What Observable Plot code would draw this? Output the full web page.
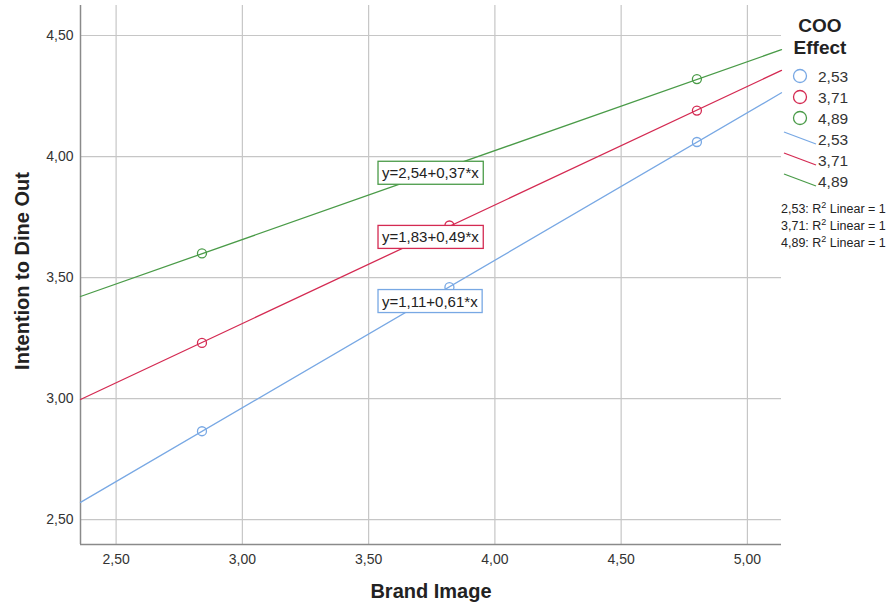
<!DOCTYPE html>
<html>
<head>
<meta charset="utf-8">
<script src="https://cdn.jsdelivr.net/npm/d3@7"></script>
<script src="https://cdn.jsdelivr.net/npm/@observablehq/plot@0.6"></script>
<style>
  html, body { margin: 0; padding: 0; background: #fff; }
  #chart { position: relative; width: 896px; height: 610px; }
  svg { font-family: "Liberation Sans", Arial, sans-serif; }
</style>
</head>
<body>
<div id="chart"></div>
<script>
// ---- data ----
const cooLevels = ["2,53", "3,71", "4,89"];
const cooColors = ["#78a8e4", "#d42a52", "#4a9b48"];
const brandImage = [2.84, 3.82, 4.80];
const intentionLow = [2.865, 3.46, 4.06];
const intentionMid = [3.23, 3.715, 4.19];
const intentionHigh = [3.60, 3.955, 4.32];
const equations = ["y=1,11+0,61*x", "y=1,83+0,49*x", "y=2,54+0,37*x"];
const equationX = [3.553, 3.553, 3.553];
const equationY = [3.40, 3.665, 3.93];
const xTicks = [2.5, 3.0, 3.5, 4.0, 4.5, 5.0];
const yTicks = [2.5, 3.0, 3.5, 4.0, 4.5];
const xDomain = [2.359, 5.135];
const yDomain = [2.397, 4.624];

const seriesValues = [intentionLow, intentionMid, intentionHigh];
const fmt = d => d.toFixed(2).replace(".", ",");

const points = [];
cooLevels.forEach((c, i) => brandImage.forEach((x, j) => points.push({coo: c, x, y: seriesValues[i][j]})));

// least-squares fit lines across the x domain
const fitLines = [];
cooLevels.forEach((c, i) => {
  const ys = seriesValues[i];
  const mx = d3.mean(brandImage), my = d3.mean(ys);
  const b = d3.sum(brandImage, (x, j) => (x - mx) * (ys[j] - my)) / d3.sum(brandImage, x => (x - mx) ** 2);
  const a = my - b * mx;
  xDomain.forEach(x => fitLines.push({coo: c, x, y: a + b * x}));
});

const eqData = cooLevels.map((c, i) => ({coo: c, label: equations[i], x: equationX[i], y: equationY[i]}));

const color = {domain: cooLevels, range: cooColors};

const plot = Plot.plot({
  width: 896,
  height: 610,
  marginLeft: 80,
  marginRight: 115,
  marginTop: 5,
  marginBottom: 66,
  style: {fontFamily: "Liberation Sans, Arial, sans-serif", background: "#fff"},
  x: {domain: xDomain},
  y: {domain: yDomain},
  color,
  marks: [
    Plot.gridX(xTicks, {stroke: "#c6c6c6", strokeOpacity: 1, strokeWidth: 1.2}),
    Plot.gridY(yTicks, {stroke: "#c6c6c6", strokeOpacity: 1, strokeWidth: 1.2}),
    Plot.ruleX([xDomain[0]], {stroke: "#8a8a8a", strokeWidth: 1.5}),
    Plot.ruleY([yDomain[0]], {stroke: "#8a8a8a", strokeWidth: 1.5}),
    Plot.axisX(xTicks, {tickSize: 0, tickPadding: 10, tickFormat: fmt, fontSize: 14, fill: "#333", label: null}),
    Plot.axisY(yTicks, {tickSize: 0, tickPadding: 7, tickFormat: fmt, fontSize: 14, fill: "#333", label: null}),
    Plot.line(fitLines, {x: "x", y: "y", z: "coo", stroke: "coo", strokeWidth: 1.3}),
    Plot.dot(points, {x: "x", y: "y", stroke: "coo", r: 4.5, strokeWidth: 1.3, fill: "none"}),
    Plot.text(eqData, {x: "x", y: "y", text: "label", textAnchor: "start", fontSize: 15, fill: "#222", className: "eq"}),
    Plot.text(["Brand Image"], {frameAnchor: "bottom", textAnchor: "middle", dy: 53, fontSize: 20, fontWeight: "bold", fill: "#222"}),
    Plot.text(["Intention to Dine Out"], {frameAnchor: "left", textAnchor: "middle", rotate: -90, dx: -58, dy: -4, fontSize: 20, fontWeight: "bold", fill: "#222"})
  ]
});

document.getElementById("chart").appendChild(plot);

// boxes behind equation labels
const svg = d3.select(plot);
svg.selectAll("g.eq text").each(function(d, i) {
  const bb = this.getBBox();
  const col = cooColors[i];
  const r = d3.select(this.parentNode).insert("rect", () => this)
    .attr("x", bb.x - 4).attr("y", bb.y - 3)
    .attr("width", bb.width + 8).attr("height", bb.height + 6)
    .attr("fill", "#fff").attr("stroke", col).attr("stroke-width", 1.3);
  const tr = this.getAttribute("transform");
  if (tr) r.attr("transform", tr);
});

// legend
const lg = svg.append("g").attr("font-family", "Liberation Sans, Arial, sans-serif").attr("text-anchor", "start");
lg.append("text").attr("x", 820).attr("y", 32).attr("text-anchor", "middle")
  .attr("font-size", 19).attr("font-weight", "bold").attr("fill", "#222").text("COO");
lg.append("text").attr("x", 820).attr("y", 54).attr("text-anchor", "middle")
  .attr("font-size", 19).attr("font-weight", "bold").attr("fill", "#222").text("Effect");
cooLevels.forEach((c, i) => {
  const y = 76 + i * 21;
  lg.append("circle").attr("cx", 800).attr("cy", y).attr("r", 6.5)
    .attr("fill", "none").attr("stroke", cooColors[i]).attr("stroke-width", 1.3);
  lg.append("text").attr("x", 818).attr("y", y + 5.5).attr("text-anchor", "start")
    .attr("font-size", 15.5).attr("fill", "#333").text(c);
});
cooLevels.forEach((c, i) => {
  const y = 139 + i * 21;
  lg.append("line").attr("x1", 784).attr("y1", y - 7).attr("x2", 816).attr("y2", y + 5)
    .attr("stroke", cooColors[i]).attr("stroke-width", 1.3);
  lg.append("text").attr("x", 818).attr("y", y + 5.5).attr("text-anchor", "start")
    .attr("font-size", 15.5).attr("fill", "#333").text(c);
});
cooLevels.forEach((c, i) => {
  const y = 213 + i * 17;
  const t = lg.append("text").attr("x", 781).attr("y", y).attr("text-anchor", "start")
    .attr("font-size", 12.5).attr("fill", "#222");
  t.append("tspan").text(c + ": R");
  t.append("tspan").attr("dy", -5).attr("font-size", 9).text("2");
  t.append("tspan").attr("dy", 5).text(" Linear = 1");
});
</script>
</body>
</html>
